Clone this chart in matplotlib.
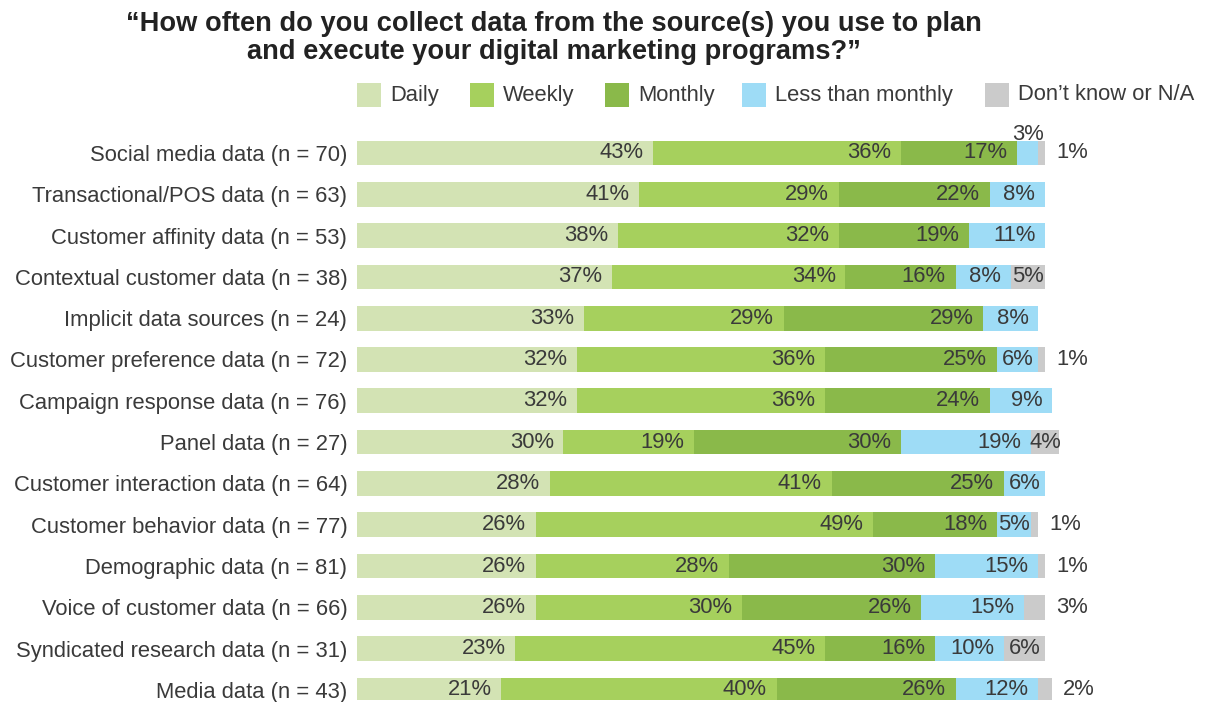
import matplotlib
matplotlib.use("Agg")
import matplotlib.pyplot as plt
from matplotlib.patches import Rectangle

categories = [
    "Social media data (n = 70)",
    "Transactional/POS data (n = 63)",
    "Customer affinity data (n = 53)",
    "Contextual customer data (n = 38)",
    "Implicit data sources (n = 24)",
    "Customer preference data (n = 72)",
    "Campaign response data (n = 76)",
    "Panel data (n = 27)",
    "Customer interaction data (n = 64)",
    "Customer behavior data (n = 77)",
    "Demographic data (n = 81)",
    "Voice of customer data (n = 66)",
    "Syndicated research data (n = 31)",
    "Media data (n = 43)",
]
series_names = ["Daily", "Weekly", "Monthly", "Less than monthly", "Don\u2019t know or N/A"]
daily = [43, 41, 38, 37, 33, 32, 32, 30, 28, 26, 26, 26, 23, 21]
weekly = [36, 29, 32, 34, 29, 36, 36, 19, 41, 49, 28, 30, 45, 40]
monthly = [17, 22, 19, 16, 29, 25, 24, 30, 25, 18, 30, 26, 16, 26]
less_than_monthly = [3, 8, 11, 8, 8, 6, 9, 19, 6, 5, 15, 15, 10, 12]
dont_know = [1, 0, 0, 5, 0, 1, 0, 4, 0, 1, 1, 3, 6, 2]
title_lines = ["\u201cHow often do you collect data from the source(s) you use to plan",
               "and execute your digital marketing programs?\u201d"]

colors = ["#d3e3b4", "#a6d05d", "#8ab94a", "#9edcf6", "#cbcbcb"]
text_color = "#3a3a3a"
FONT = "Liberation Sans"
FS = 15.8

W, H = 1208, 702
fig = plt.figure(figsize=(W / 100, H / 100), dpi=100)

# axes geometry in pixels
x0_px = 357
px_per_pct = 6.88
xmax = 120
ax_w_px = xmax * px_per_pct
row_px = 41.3
y_top_center = 153
ylim_top, ylim_bot = -0.5, 13.25
ax_top_px = y_top_center + ylim_top * row_px
ax_h_px = (ylim_bot - ylim_top) * row_px
ax = fig.add_axes([x0_px / W, 1 - (ax_top_px + ax_h_px) / H, ax_w_px / W, ax_h_px / H])
ax.set_xlim(0, xmax)
ax.set_ylim(ylim_bot, ylim_top)

series = [daily, weekly, monthly, less_than_monthly, dont_know]
ypos = list(range(len(categories)))
left = [0] * len(categories)
for vals, col, name in zip(series, colors, series_names):
    ax.barh(ypos, vals, left=left, height=0.6, color=col, label=name, linewidth=0)
    left = [l + v for l, v in zip(left, vals)]

# data labels
for i in ypos:
    start = 0
    total = sum(s[i] for s in series)
    for k, s in enumerate(series):
        v = s[i]
        if v == 0:
            continue
        end = start + v
        lab = f"{v}%"
        if v <= 3:
            if k == 4:
                ax.annotate(lab, xy=(total, i), xytext=(8, 0), textcoords="offset points",
                            ha="left", va="center", fontsize=FS, family=FONT, color=text_color)
            else:
                ax.annotate(lab, xy=((start + end) / 2, i - 0.3), xytext=(0, -3), textcoords="offset points",
                            ha="center", va="bottom", fontsize=FS, family=FONT, color=text_color)
        elif v <= 6:
            ax.text((start + end) / 2, i, lab, ha="center", va="center",
                    fontsize=FS, family=FONT, color=text_color)
        else:
            ax.annotate(lab, xy=(end, i), xytext=(-7, 0), textcoords="offset points",
                        ha="right", va="center", fontsize=FS, family=FONT, color=text_color)
        start = end

ax.set_yticks(ypos)
ax.set_yticklabels(categories, fontsize=FS, family=FONT, color=text_color)
ax.tick_params(axis="y", length=0, pad=7)
ax.set_xticks([])
for sp in ax.spines.values():
    sp.set_visible(False)
ax.patch.set_alpha(0)

# title
for yy, line in zip([24, 52], title_lines):
    fig.text(554 / W, 1 - yy / H, line, ha="center", va="center", fontsize=19.6,
             fontweight="bold", family=FONT, color="#222222")

# legend
box_x = [357, 470, 605, 742, 985]
ly = 95
for bx, col, name in zip(box_x, colors, series_names):
    fig.patches.append(Rectangle((bx / W, 1 - (ly + 12) / H), 24 / W, 24 / H,
                                 transform=fig.transFigure, color=col, linewidth=0))
    fig.text((bx + 33) / W, 1 - ly / H, name, ha="left", va="center",
             fontsize=FS, family=FONT, color=text_color)

fig.savefig("out.png", dpi=100)
